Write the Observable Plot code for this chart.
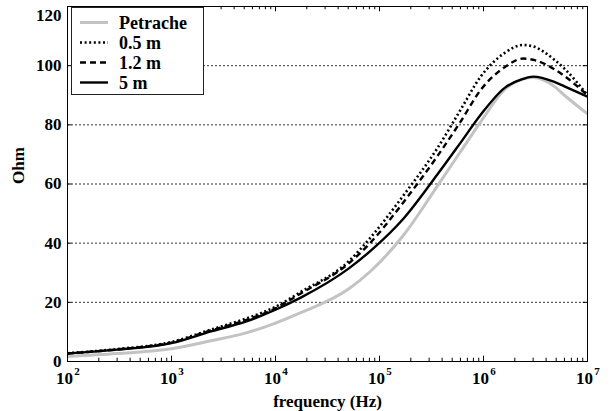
<!DOCTYPE html>
<html>
<head>
<meta charset="utf-8">
<script src="https://cdn.jsdelivr.net/npm/d3@7"></script>
<script src="https://cdn.jsdelivr.net/npm/@observablehq/plot@0.6"></script>
<style>
  html, body { margin: 0; padding: 0; background: #fff; }
  #chart { width: 616px; height: 411px; }
  #chart svg, #chart svg text { font-family: "Liberation Serif", "Times New Roman", serif !important; font-weight: bold; }
</style>
</head>
<body>
<div id="chart"></div>
<script>
// Frequencies (Hz) at which values were read
const freq = [100, 300, 1000, 2400, 5000, 1e4, 1.75e4, 5e4, 8.2e4, 1.73e5, 3.6e5, 6e5, 9.4e5, 1.6e6, 2.4e6, 3e6, 4.8e6, 6e6, 1e7];
// Series values (Ohm)
const petrache = [1.7, 2.7, 4.3, 7.0, 9.5, 13.0, 16.5, 24.4, 30.5, 43.0, 59.3, 70.9, 81.0, 92.0, 95.5, 96.0, 93.0, 90.0, 83.7];
const m05      = [2.8, 4.2, 6.6, 10.8, 14.3, 18.5, 23.5, 33.7, 41.9, 56.5, 72.1, 85.0, 96.3, 104.3, 107.0, 106.5, 102.0, 99.0, 90.0];
const m12      = [2.7, 4.1, 6.4, 10.5, 13.8, 18.0, 23.0, 33.0, 40.2, 54.2, 69.4, 81.0, 91.8, 99.5, 102.4, 102.0, 98.8, 96.5, 90.0];
const m5       = [2.7, 4.0, 6.2, 10.2, 13.3, 17.5, 21.6, 31.3, 37.4, 48.6, 63.2, 73.9, 83.4, 92.5, 95.5, 96.3, 94.5, 93.0, 89.5];

const seriesNames = ["Petrache", "0.5 m", "1.2 m", "5 m"];
const seriesValues = [petrache, m05, m12, m5];

// Axis ticks
const yTicks = [0, 20, 40, 60, 80, 100, 120];
const gridY = [20, 40, 60, 80, 100];
const xMajor = [1e2, 1e3, 1e4, 1e5, 1e6, 1e7];
const xExp = ["2", "3", "4", "5", "6", "7"];
const xMinor = [2, 3, 4, 5, 6];
const minorMult = [2, 3, 4, 5, 6, 7, 8, 9];

const xLabel = "frequency (Hz)";
const yLabel = "Ohm";

const styles = {
  "Petrache": {stroke: "#c3c3c3", strokeWidth: 3, dash: null},
  "0.5 m": {stroke: "#000", strokeWidth: 2.6, dash: "2,2.6"},
  "1.2 m": {stroke: "#000", strokeWidth: 2.4, dash: "6,4"},
  "5 m": {stroke: "#000", strokeWidth: 2.4, dash: null}
};

const drawOrder = ["Petrache", "5 m", "1.2 m", "0.5 m"];
const tables = {};
seriesNames.forEach((n, i) => {
  tables[n] = freq.map((f, j) => ({f, v: seriesValues[i][j]}));
});

const minorTicks = xMinor.flatMap(e => minorMult.map(m => m * Math.pow(10, e)));

const lineMarks = drawOrder.map(n => Plot.line(tables[n], {
  x: "f", y: "v", stroke: styles[n].stroke, strokeWidth: styles[n].strokeWidth,
  strokeDasharray: styles[n].dash, curve: "monotone-x", strokeLinecap: "butt"
}));

const font = "Liberation Serif";

const chart = Plot.plot({
  width: 616,
  height: 411,
  marginLeft: 67,
  marginRight: 29,
  marginTop: 6,
  marginBottom: 50,
  style: {fontFamily: font, fontWeight: "bold", fontSize: "16px", background: "#fff", color: "#000"},
  x: {type: "log", domain: [1e2, 1e7], ticks: xMajor, tickFormat: () => "", tickSize: 0, label: null},
  y: {domain: [0, 120], ticks: yTicks, tickSize: 0, tickPadding: 6, label: null},
  marks: [
    Plot.ruleY(gridY, {stroke: "#333", strokeWidth: 1, strokeDasharray: "2,2"}),
    ...lineMarks,
    // inward ticks bottom/top
    Plot.ruleX(minorTicks, {y1: 0, y2: 1.1, stroke: "#000", strokeWidth: 1}),
    Plot.ruleX(minorTicks, {y1: 120, y2: 118.9, stroke: "#000", strokeWidth: 1}),
    Plot.ruleX(xMajor, {y1: 0, y2: 1.8, stroke: "#000", strokeWidth: 1}),
    Plot.ruleX(xMajor, {y1: 120, y2: 118.2, stroke: "#000", strokeWidth: 1}),
    Plot.ruleY(yTicks, {x1: 1e2, x2: 110, stroke: "#000", strokeWidth: 1}),
    Plot.ruleY(yTicks, {x1: 1e7, x2: 9.1e6, stroke: "#000", strokeWidth: 1}),
    Plot.frame({stroke: "#000", strokeWidth: 1}),
    // x tick labels 10^n
    Plot.text(xMajor, {x: d => d, y: 0, text: () => "10", dx: -3, dy: 17, fontSize: 17, fontWeight: "bold", fontFamily: font}),
    Plot.text(xMajor, {x: d => d, y: 0, text: (d, i) => xExp[i], dx: 9.5, dy: 10, fontSize: 11, fontWeight: "bold", fontFamily: font}),
    // axis titles
    Plot.text([xLabel], {frameAnchor: "bottom", dy: 45, fontSize: 17, fontWeight: "bold", fontFamily: font}),
    Plot.text([yLabel], {frameAnchor: "left", dx: -49, rotate: -90, fontSize: 17, fontWeight: "bold", fontFamily: font})
  ]
});

document.getElementById("chart").appendChild(chart);
d3.select(chart).selectAll("g[aria-label='y-axis tick label'] text")
  .attr("font-size", 17)
  .each(function() {
    if (this.textContent.trim() === "120") d3.select(this).attr("dy", "0.55em");
  });

// Legend inside plot (top-left)
const svg = d3.select(chart);
const lg = svg.append("g").attr("class", "legend").attr("text-anchor", "start");
lg.append("rect").attr("x", 71.5).attr("y", 7.5).attr("width", 132).attr("height", 87)
  .attr("fill", "#fff").attr("stroke", "#222").attr("stroke-width", 1);
const rowY = [22.5, 42.5, 62.5, 82.5];
seriesNames.forEach((n, i) => {
  const s = styles[n];
  lg.append("line").attr("x1", 80).attr("x2", 108).attr("y1", rowY[i]).attr("y2", rowY[i])
    .attr("stroke", s.stroke).attr("stroke-width", s.strokeWidth)
    .attr("stroke-dasharray", s.dash);
  lg.append("text").attr("x", 119).attr("y", rowY[i]).attr("dy", "0.35em")
    .attr("text-anchor", "start")
    .attr("font-family", font).attr("font-weight", "bold").attr("font-size", 18)
    .attr("fill", "#000").text(n);
});
</script>
</body>
</html>
